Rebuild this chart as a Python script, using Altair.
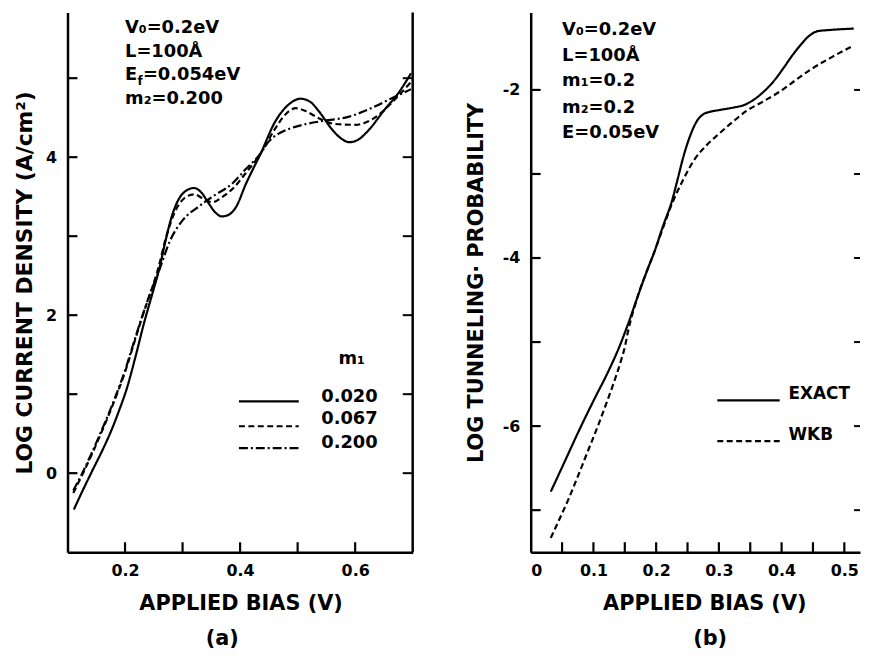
import altair as alt
import pandas as pd

# ---------------- Panel (a): log current density vs applied bias ----------------
a_series = ["0.020", "0.067", "0.200"]
a_x_020 = [0.111, 0.127, 0.143, 0.16, 0.175, 0.19, 0.203, 0.218, 0.233, 0.247, 0.26, 0.27, 0.28,
           0.292, 0.305, 0.32, 0.333, 0.345, 0.357, 0.368, 0.38, 0.393, 0.41, 0.436, 0.461, 0.485,
           0.505, 0.522, 0.537, 0.56, 0.575, 0.59, 0.605, 0.622, 0.651, 0.674, 0.697]
a_y_020 = [-0.46, -0.21, 0.03, 0.28, 0.52, 0.8, 1.07, 1.47, 1.9, 2.26, 2.6, 2.93, 3.22,
           3.45, 3.57, 3.61, 3.55, 3.42, 3.3, 3.25, 3.27, 3.37, 3.66, 4.05, 4.45, 4.67,
           4.74, 4.7, 4.58, 4.35, 4.24, 4.19, 4.22, 4.33, 4.6, 4.8, 5.06]
a_x_067 = [0.11, 0.127, 0.143, 0.158, 0.173, 0.187, 0.2, 0.215, 0.23, 0.245, 0.258, 0.27, 0.285,
           0.303, 0.32, 0.337, 0.352, 0.37, 0.387, 0.41, 0.436, 0.46, 0.48, 0.497, 0.515, 0.535,
           0.565, 0.6, 0.64, 0.665, 0.697]
a_y_067 = [-0.25, 0.0, 0.25, 0.5, 0.76, 1.02, 1.28, 1.63, 1.98, 2.3, 2.6, 2.95, 3.28,
           3.48, 3.53, 3.47, 3.43, 3.5, 3.6, 3.8, 4.05, 4.35, 4.55, 4.62, 4.58, 4.5,
           4.42, 4.41, 4.53, 4.7, 4.95]
a_x_200 = [0.11, 0.127, 0.143, 0.158, 0.173, 0.187, 0.2, 0.215, 0.23, 0.245, 0.26, 0.278, 0.3,
           0.329, 0.352, 0.387, 0.41, 0.436, 0.45, 0.47, 0.49, 0.515, 0.545, 0.588, 0.628, 0.662, 0.697]
a_y_200 = [-0.22, 0.02, 0.27, 0.52, 0.78, 1.04, 1.3, 1.65, 1.99, 2.3, 2.58, 2.94, 3.2,
           3.38, 3.5, 3.67, 3.85, 4.05, 4.2, 4.31, 4.37, 4.42, 4.46, 4.51, 4.62, 4.74, 4.86]
a_xlabels = [0.2, 0.4, 0.6]
a_xticks = [0.2, 0.3, 0.4, 0.5, 0.6]
a_ylabels = [0, 2, 4]
a_yticks = [0, 1, 2, 3, 4, 5]
a_notes = ["V₀=0.2eV", "L=100Å", "E", "m₂=0.200"]
a_note_sub = "f"
a_note_rest = "=0.054eV"
a_legend_title = "m₁"

# ---------------- Panel (b): log tunneling probability vs applied bias ----------------
b_series = ["EXACT", "WKB"]
b_x_exact = [0.032, 0.05, 0.081, 0.1, 0.123, 0.14, 0.155, 0.17, 0.186, 0.197, 0.21, 0.226, 0.235,
             0.244, 0.255, 0.265, 0.275, 0.286, 0.3, 0.323, 0.34, 0.355, 0.37, 0.387, 0.403,
             0.418, 0.432, 0.445, 0.458, 0.471, 0.49, 0.515]
b_y_exact = [-6.78, -6.49, -5.99, -5.7, -5.36, -5.08, -4.79, -4.47, -4.14, -3.93, -3.64, -3.3, -3.04,
             -2.78, -2.53, -2.37, -2.29, -2.26, -2.24, -2.21, -2.18, -2.12, -2.03, -1.9, -1.74,
             -1.58, -1.45, -1.35, -1.3, -1.29, -1.28, -1.27]
b_x_wkb = [0.032, 0.045, 0.0596, 0.075, 0.091, 0.107, 0.123, 0.134, 0.144, 0.15, 0.155, 0.17, 0.186,
           0.197, 0.21, 0.226, 0.243, 0.26, 0.28, 0.302, 0.322, 0.344, 0.37, 0.397, 0.423, 0.45,
           0.48, 0.515]
b_y_wkb = [-7.33, -7.12, -6.88, -6.6, -6.3, -6.0, -5.68, -5.45, -5.22, -5.06, -4.88, -4.47, -4.14,
           -3.93, -3.66, -3.34, -3.07, -2.84, -2.66, -2.51, -2.38, -2.25, -2.14, -2.02, -1.88, -1.74,
           -1.61, -1.47]
b_xlabels = [0, 0.1, 0.2, 0.3, 0.4, 0.5]
b_xticks = [0.05, 0.1, 0.15, 0.2, 0.25, 0.3, 0.35, 0.4, 0.45, 0.5]
b_ylabels = [-2, -4, -6]
b_yticks = [-7, -6, -5, -4, -3, -2]
b_notes = ["V₀=0.2eV", "L=100Å", "m₁=0.2", "m₂=0.2", "E=0.05eV"]

# ---------------- layout / style constants ----------------
FONT = "DejaVu Sans"
W_A, W_B, H = 348, 332, 544
TICK = 10
LW = 2.2
A_XDOM, A_YDOM = [0.1, 0.7], [-1.0, 5.83]
B_XDOM, B_YDOM = [0.0, 0.525], [-7.5, -1.08]
A_DASH = [[1, 0], [6, 3.5], [9, 3, 2, 3]]
B_DASH = [[1, 0], [6, 3]]

# annotation placement (data coordinates)
A_NOTE_X, A_NOTE_Y = 0.2, [5.63, 5.33, 5.04, 4.74]
A_LEG_X1, A_LEG_X2, A_LEG_Y = 0.398, 0.502, [0.908, 0.594, 0.318]
A_LEG_LX, A_LEG_LY = 0.541, [0.97, 0.68, 0.38]
A_LEG_TX, A_LEG_TY = 0.571, 1.45
A_TAG_X = 0.369
B_NOTE_X, B_NOTE_Y = 0.05, [-1.29, -1.60, -1.90, -2.21, -2.51]
B_LEG_X1, B_LEG_X2, B_LEG_Y = 0.2975, 0.397, [-5.694, -6.178]
B_LEG_LX, B_LEG_LY = 0.411, [-5.623, -6.107]
B_TAG_X = 0.286


def curves(xs_list, ys_list, names):
    rows = []
    for xs, ys, n in zip(xs_list, ys_list, names):
        for x, y in zip(xs, ys):
            rows.append({"x": x, "y": y, "s": n})
    return pd.DataFrame(rows)


def text_mark(size=18, **kw):
    return dict(font=FONT, fontSize=size, fontWeight="bold", color="black", **kw)


def build_panel(df, series, dash, xdom, ydom, width, xlabels, xfmt, xticks, ylabels, yticks,
                ytitle, ytitle_size, ytitle_x, xtitle_x, right_border, tag, tag_x, extra):
    xs = alt.Scale(domain=xdom, nice=False, zero=False)
    ys = alt.Scale(domain=ydom, nice=False, zero=False)
    xax = alt.Axis(values=xlabels, format=xfmt, title="APPLIED BIAS (V)",
                   titleX=xtitle_x, titlePadding=14)
    yax = alt.Axis(values=ylabels,
                   labelExpr="datum.value < 0 ? '-' + abs(datum.value) : '' + datum.value",
                   title=ytitle, titleX=ytitle_x, titleFontSize=ytitle_size)

    def X(f):
        return alt.X(f, scale=xs, axis=xax)

    def Y(f):
        return alt.Y(f, scale=ys, axis=yax)

    dash_enc = alt.StrokeDash("s:N", scale=alt.Scale(domain=series, range=dash), legend=None)

    lines = alt.Chart(df).mark_line(color="black", strokeWidth=LW, interpolate="monotone").encode(
        x=X("x:Q"), y=Y("y:Q"), strokeDash=dash_enc, detail="s:N")

    ytick_df = pd.DataFrame({"y": yticks})
    xtick_df = pd.DataFrame({"x": xticks})
    yt = alt.Chart(ytick_df).mark_rule(color="black", strokeWidth=2.2).encode(
        y=Y("y:Q"), x=alt.value(0), x2=alt.value(TICK))
    yt_r = alt.Chart(ytick_df).mark_rule(color="black", strokeWidth=2).encode(
        y=Y("y:Q"), x=alt.value(width - (TICK if right_border else 6)), x2=alt.value(width))
    xt = alt.Chart(xtick_df).mark_rule(color="black", strokeWidth=2.2).encode(
        x=X("x:Q"), y=alt.value(H), y2=alt.value(H - TICK))

    layers = [lines, yt, yt_r, xt]
    if right_border:
        layers.append(alt.Chart(pd.DataFrame({"v": [0]})).mark_rule(color="black", strokeWidth=2.5).encode(
            x=alt.value(width), y=alt.value(0), y2=alt.value(H)))

    tag_df = pd.DataFrame({"x": [tag_x], "t": [tag]})
    layers.append(alt.Chart(tag_df).mark_text(**text_mark(21, baseline="middle", align="center")).encode(
        x=X("x:Q"), y=alt.value(H + 88), text="t:N"))

    for d, kw in extra["texts"]:
        layers.append(alt.Chart(d).mark_text(**kw).encode(x=X("x:Q"), y=Y("y:Q"), text="t:N"))
    for d in extra["legend_lines"]:
        layers.append(alt.Chart(d).mark_rule(color="black", strokeWidth=LW).encode(
            x=X("x:Q"), x2="x2:Q", y=Y("y:Q"), strokeDash=dash_enc))

    return alt.layer(*layers).properties(width=width, height=H)


# ---------- panel annotation tables ----------
a_extra = {
    "texts": [
        (pd.DataFrame({"x": [A_NOTE_X] * len(a_notes), "y": A_NOTE_Y, "t": a_notes}),
         text_mark(18, align="left", baseline="middle")),
        (pd.DataFrame({"x": [A_NOTE_X], "y": [A_NOTE_Y[2]], "t": [a_note_sub]}),
         text_mark(12, align="left", baseline="middle", dx=12.5, dy=6)),
        (pd.DataFrame({"x": [A_NOTE_X], "y": [A_NOTE_Y[2]], "t": [a_note_rest]}),
         text_mark(18, align="left", baseline="middle", dx=18)),
        (pd.DataFrame({"x": [A_LEG_LX] * 3 + [A_LEG_TX], "y": A_LEG_LY + [A_LEG_TY],
                       "t": a_series + [a_legend_title]}),
         text_mark(18, align="left", baseline="middle")),
    ],
    "legend_lines": [
        pd.DataFrame({"s": a_series, "x": [A_LEG_X1] * 3, "x2": [A_LEG_X2] * 3, "y": A_LEG_Y}),
    ],
}

b_extra = {
    "texts": [
        (pd.DataFrame({"x": [B_NOTE_X] * len(b_notes), "y": B_NOTE_Y, "t": b_notes}),
         text_mark(18, align="left", baseline="middle")),
        (pd.DataFrame({"x": [B_LEG_LX] * 2, "y": B_LEG_LY, "t": b_series}),
         text_mark(17, align="left", baseline="middle")),
    ],
    "legend_lines": [
        pd.DataFrame({"s": b_series, "x": [B_LEG_X1] * 2, "x2": [B_LEG_X2] * 2, "y": B_LEG_Y}),
    ],
}

a_df = curves([a_x_020, a_x_067, a_x_200], [a_y_020, a_y_067, a_y_200], a_series)
b_df = curves([b_x_exact, b_x_wkb], [b_y_exact, b_y_wkb], b_series)

left = build_panel(a_df, a_series, A_DASH, A_XDOM, A_YDOM, W_A, a_xlabels, ".1f", a_xticks,
                   a_ylabels, a_yticks, "LOG CURRENT DENSITY (A/cm²)", 22, -31, 174.5, True,
                   "(a)", A_TAG_X, a_extra)
right = build_panel(b_df, b_series, B_DASH, B_XDOM, B_YDOM, W_B, b_xlabels, ".1~f", b_xticks,
                    b_ylabels, b_yticks, "LOG TUNNELING· PROBABILITY", 21, -45, 175, False,
                    "(b)", B_TAG_X, b_extra)

chart = alt.hconcat(left, right, spacing=50).properties(
    padding={"left": 6, "top": 0, "right": 0, "bottom": 0}
).configure_view(stroke=None).configure_axis(
    domainColor="black", domainWidth=2.5, ticks=False, tickSize=0, grid=False,
    labelFont=FONT, labelFontSize=16, labelFontWeight="bold", labelColor="black", labelPadding=11,
    titleFont=FONT, titleFontSize=21, titleFontWeight="bold", titleColor="black",
)

chart.save("out.html", embed_options={"renderer": "svg", "actions": False})
